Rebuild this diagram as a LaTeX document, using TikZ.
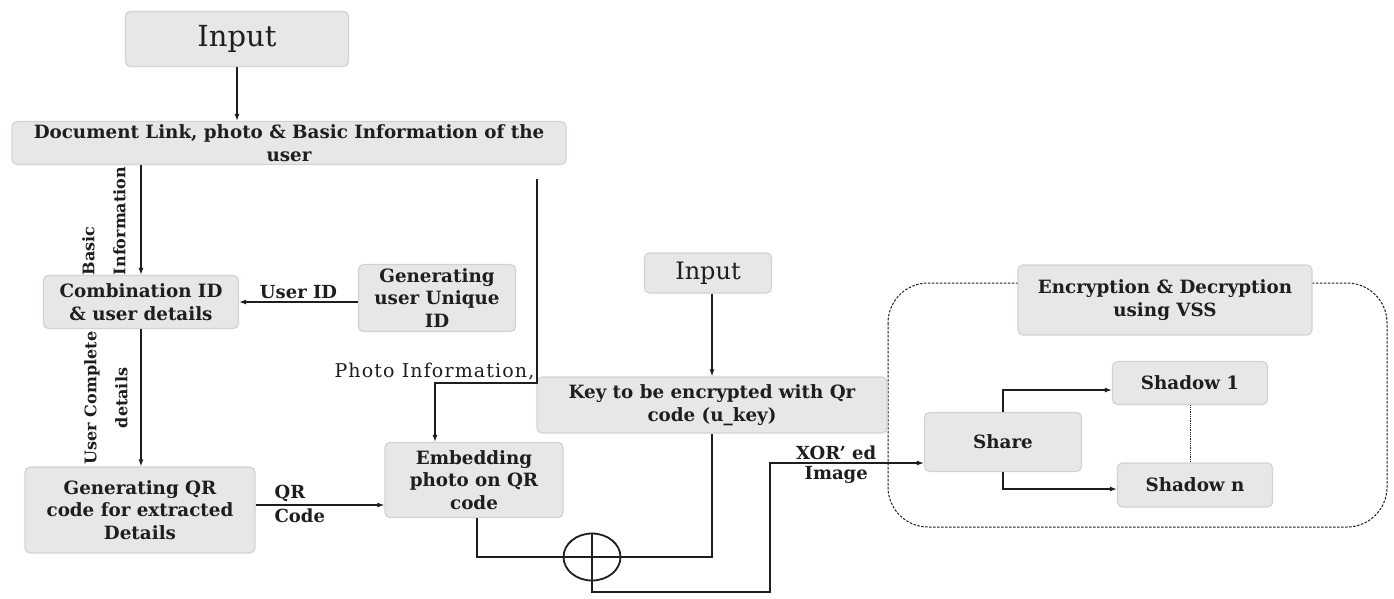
\documentclass[tikz,border=0pt]{standalone}
\usepackage{fontspec}
\setmainfont{DejaVu Serif}
\newfontfamily\photofont[LetterSpace=6]{DejaVu Serif}
\usetikzlibrary{arrows.meta,positioning,shapes.geometric}
\definecolor{boxgray}{HTML}{E8E6E6}
\definecolor{boxedge}{HTML}{D4D1D1}
\definecolor{inkgray}{HTML}{1E1E1E}

\begin{document}
\begin{tikzpicture}[x=1pt,y=-1pt,
        blk/.style={draw=boxedge,line width=1.2pt,rounded corners=5pt,fill=boxgray,
                    align=center,inner sep=2pt,text=inkgray,
                    font=\fontsize{18.3}{22.5}\selectfont\bfseries},
        lbl/.style={font=\fontsize{18}{20}\selectfont\bfseries,align=center,inner sep=3pt,text=inkgray},
        sidelbl/.style={font=\fontsize{16}{31}\selectfont\bfseries,rotate=90,inner sep=0pt,text=inkgray},
        arr/.style={-{Latex[length=7pt,width=5pt]},line width=1.2pt,inkgray},
        wire/.style={line width=1.2pt,inkgray}
      ]
  \useasboundingbox (0,0) rectangle (1394,598);
  % VSS group frame
  \draw[inkgray,line width=1pt,dash pattern=on 2.5pt off 1.5pt,rounded corners=40pt]
    (888,283) rectangle (1387,527);

  \node[blk,minimum width=223,minimum height=55,font=\fontsize{29}{32}\selectfont] (input) at (237,39) {Input};
  \node[blk,minimum width=554,minimum height=43] (doc) at (289,143) {Document Link, photo \& Basic Information of the\\user};
  \node[blk,minimum width=195,minimum height=53] (comb) at (141,302) {Combination ID\\\& user details};
  \node[blk,minimum width=157,minimum height=67] (uid) at (437,298) {Generating\\user Unique\\ID};
  \node[blk,minimum width=230,minimum height=86] (qrgen) at (140,510) {Generating QR\\code for extracted\\Details};
  \node[blk,minimum width=178,minimum height=75] (emb) at (474,480) {Embedding\\photo on QR\\code};
  \node[blk,minimum width=127,minimum height=40,font=\fontsize{24}{26}\selectfont] (input2) at (708,273) {Input};
  \node[blk,minimum width=350,minimum height=56] (key) at (712,405) {Key to be encrypted with Qr\\code (u\_key)};
  \node[ellipse,draw=inkgray,line width=1.8pt,minimum width=57,minimum height=47] (xor) at (592,557) {};
  \node[blk,minimum width=294,minimum height=70] (vss) at (1165,300) {Encryption \& Decryption\\using VSS};
  \node[blk,minimum width=157,minimum height=59] (share) at (1003,442) {Share};
  \node[blk,minimum width=155,minimum height=43] (sh1) at (1190,383) {Shadow 1};
  \node[blk,minimum width=155,minimum height=44] (shn) at (1195,485) {Shadow n};

  \node[sidelbl,align=left] (basiclbl) at (104,221) {Basic\\Information};
  \node[sidelbl,align=center] (complbl) at (106,398) {User Complete\\details};

  \coordinate (phbend) at (537,383);
  \coordinate (xbot) at (770,592);
  \coordinate (xin) at ([yshift=-21pt]share.west);

  \draw[arr] (input.south) -- (input.south |- doc.north);
  \draw[arr] (doc.south -| comb.north) -- (comb.north);
  \draw[arr] (comb.south) -- (comb.south |- qrgen.north);
  \draw[arr] (uid.west |- comb.east) -- node[lbl,above]{User ID} (comb.east);
  \draw[arr] ([yshift=5pt]qrgen.east) -- node[lbl,pos=0.12,above right]{QR}
    node[lbl,pos=0.12,below right]{Code} ([yshift=5pt]qrgen.east -| emb.west);
  \draw[arr,shorten <=14pt] (doc.south -| phbend) -- node[pos=1,above left,inner sep=2pt,text=inkgray,
    font=\fontsize{19}{21}\photofont]{Photo Information,} (phbend) -| ([xshift=-39pt]emb.north);
  \draw[arr] (key.north |- input2.south) -- (key.north);
  \draw[wire] (key.south) |- (xor.east);
  \draw[wire] ([xshift=3pt]emb.south) |- (xor.west);
  \draw[wire] (xor.north) -- (xor.south) (xor.west) -- (xor.east);
  \draw[arr] (xor.south) |- (xbot) -- (xbot |- xin) -- node[lbl,pos=0.43,above]{XOR' ed}
    node[lbl,pos=0.43,below]{Image} (xin);
  \draw[arr] (share.north) |- ([yshift=-7pt]sh1.west);
  \draw[arr] (share.south) |- ([yshift=-4pt]shn.west);
  \draw[inkgray,line width=0.8pt,densely dotted] (sh1.south) -- (sh1.south |- shn.north);
\end{tikzpicture}
\end{document}
